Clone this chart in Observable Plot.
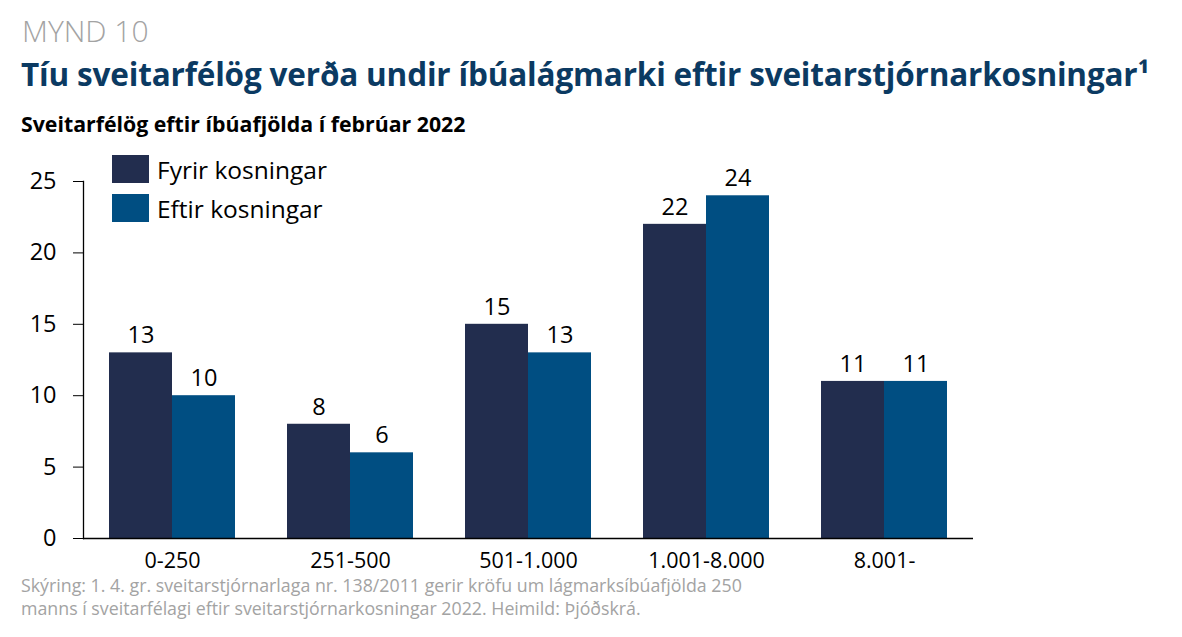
<!DOCTYPE html>
<html>
<head>
<meta charset="utf-8">
<script src="https://cdn.jsdelivr.net/npm/d3@7"></script>
<script src="https://cdn.jsdelivr.net/npm/@observablehq/plot@0.6"></script>
<style>
  body { margin: 0; background: #fff; font-family: "Open Sans", "Noto Sans", sans-serif; }
  #wrap { position: relative; width: 1182px; height: 637px; overflow: hidden; }
  .abs { position: absolute; white-space: nowrap; }
  #kicker { left: 22px; top: 10px; font-size: 30px; color: #a3a3a3; font-weight: 300; }
  #title { left: 21px; top: 52px; font-size: 31.5px; color: #0b3a62; font-weight: 700; letter-spacing: -0.17px; }
  #subtitle { left: 21px; top: 109px; font-size: 21.3px; color: #000; font-weight: 700; }
  #chart { left: 0; top: 145px; }
  #legend { left: 112px; top: 155px; font-size: 24.5px; color: #000; }
  .li { display: flex; align-items: center; height: 28px; margin-bottom: 11px; }
  .sw { width: 37px; height: 28px; margin-right: 8px; }
  #caption { left: 21px; top: 574px; font-size: 17.8px; color: #a3a3a3; line-height: 23px; }
</style>
</head>
<body>
<div id="wrap">
  <div id="kicker" class="abs">MYND 10</div>
  <div id="title" class="abs">Tíu sveitarfélög verða undir íbúalágmarki eftir sveitarstjórnarkosningar¹</div>
  <div id="subtitle" class="abs">Sveitarfélög eftir íbúafjölda í febrúar 2022</div>
  <div id="chart" class="abs"></div>
  <div id="legend" class="abs"></div>
  <div id="caption" class="abs">Skýring: 1. 4. gr. sveitarstjórnarlaga nr. 138/2011 gerir kröfu um lágmarksíbúafjölda 250<br>manns í sveitarfélagi eftir sveitarstjórnarkosningar 2022. Heimild: Þjóðskrá.</div>
</div>
<script>
const categories = ["0-250", "251-500", "501-1.000", "1.001-8.000", "8.001-"];
const seriesNames = ["Fyrir kosningar", "Eftir kosningar"];
const fyrir = [13, 8, 15, 22, 11];
const eftir = [10, 6, 13, 24, 11];
const colors = ["#222d4e", "#004e82"];
const yTicks = [0, 5, 10, 15, 20, 25];

const data = [];
categories.forEach((c, i) => {
  data.push({group: c, series: seriesNames[0], value: fyrir[i]});
  data.push({group: c, series: seriesNames[1], value: eftir[i]});
});

const chart = Plot.plot({
  width: 1182,
  height: 440,
  marginTop: 36,
  marginBottom: 47,
  marginLeft: 83,
  marginRight: 209,
  style: {fontFamily: "'Open Sans', 'Noto Sans', sans-serif", fontSize: "22px", color: "#000", background: "#fff"},
  fx: {domain: categories, padding: 0, label: null},
  x: {domain: seriesNames, paddingInner: 0, paddingOuter: 0.4, axis: null},
  y: {domain: [0, 25], label: null},
  color: {domain: seriesNames, range: colors},
  marks: [
    Plot.barY(data, {fx: "group", x: "series", y: "value", fill: "series"}),
    Plot.text(data, {fx: "group", x: "series", y: "value", text: d => String(d.value), dy: -17, fontSize: 23.5, fill: "#000"}),
    Plot.ruleY([0], {stroke: "#000", strokeWidth: 1.5}),
    Plot.frame({anchor: "left", facetAnchor: "left", stroke: "#000", strokeWidth: 1.3}),
    Plot.axisY(yTicks, {anchor: "left", tickSize: 10, tickPadding: 17, fontSize: 23.5, label: null, stroke: "#000"}),
    Plot.axisFx({anchor: "bottom", tickSize: 0, tickPadding: 14, fontSize: 21.5, label: null})
  ]
});
document.getElementById("chart").appendChild(chart);

const legend = document.getElementById("legend");
seriesNames.forEach((s, i) => {
  const row = document.createElement("div");
  row.className = "li";
  const sw = document.createElement("div");
  sw.className = "sw";
  sw.style.background = colors[i];
  const t = document.createElement("span");
  t.textContent = s;
  row.appendChild(sw);
  row.appendChild(t);
  legend.appendChild(row);
});
</script>
</body>
</html>
